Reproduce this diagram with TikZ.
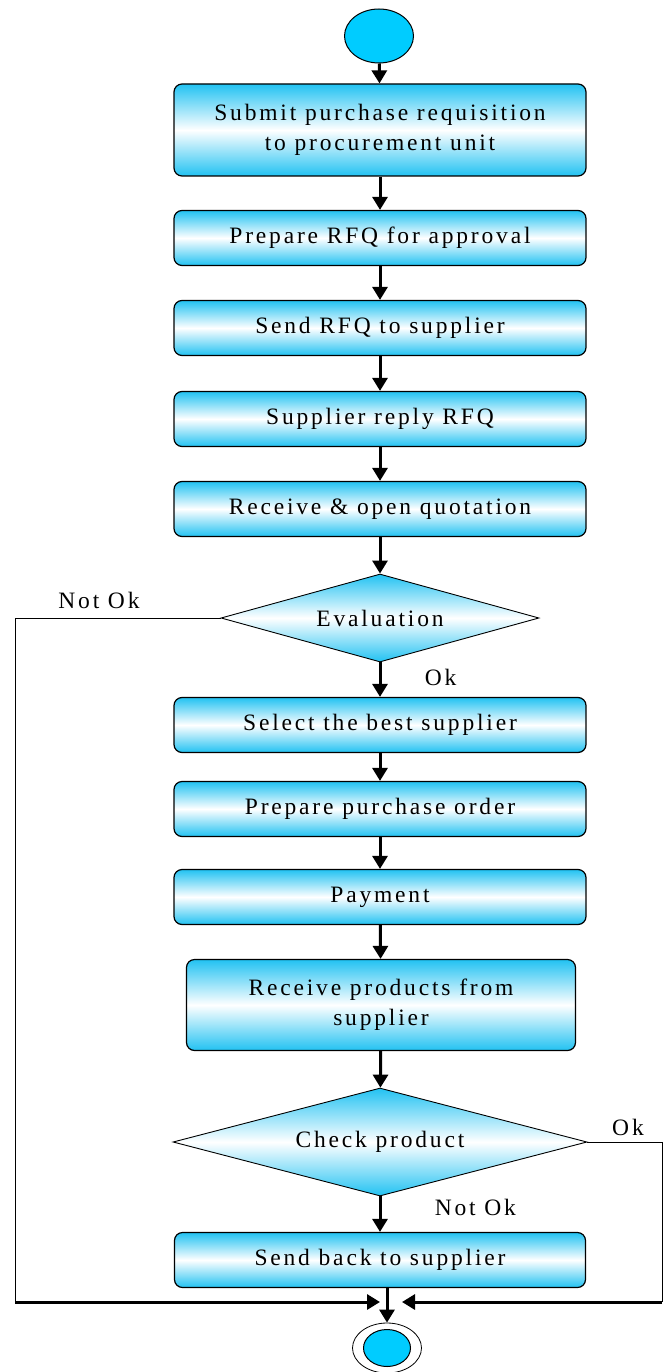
\documentclass[tikz,border=0pt]{standalone}
\usepackage{fontspec}
\usepackage{tikz}
\usetikzlibrary{positioning,shapes.geometric,arrows.meta}
\newfontfamily\flowfont{Liberation Serif}[LetterSpace=12]
\definecolor{sky}{HTML}{00CCFF}
\definecolor{skyfade}{HTML}{22C2F2}
\tikzset{
  act/.style={rectangle,draw=black,line width=1.2pt,rounded corners=8pt,
    top color=skyfade,bottom color=skyfade,middle color=white,align=center,
    minimum width=412pt,minimum height=55pt,inner sep=0pt},
  dec/.style={diamond,draw=black,line width=0.9pt,top color=skyfade,
    bottom color=skyfade,middle color=white,inner sep=0pt},
  fl/.style={-{Triangle[length=13pt,width=15pt]},line width=3pt},
  back/.style={line width=1pt},
}
\begin{document}
\begin{tikzpicture}[x=1pt,y=-1pt,every node/.style={font=\flowfont\fontsize{23.5}{30}\selectfont}]
  \useasboundingbox (0,0) rectangle (663,1372);
  \node[ellipse,draw,line width=1pt,fill=sky,minimum width=69pt,minimum height=54pt] (start) at (379,36) {};
  \node[act,minimum height=92pt] (req) at (380,130) {Submit purchase requisition\\to procurement unit};
  \node[act] (rfq) at (380,238) {Prepare RFQ for approval};
  \node[act] (send) at (380,328) {Send RFQ to supplier};
  \node[act] (reply) at (380,419) {Supplier reply RFQ};
  \node[act] (open) at (380,509) {Receive \& open quotation};
  \node[dec,aspect=3.6,minimum width=318pt,minimum height=88pt] (eval) at (380,618) {Evaluation};
  \node[act] (best) at (380,725) {Select the best supplier};
  \node[act] (po) at (380,809) {Prepare purchase order};
  \node[act] (pay) at (380,897) {Payment};
  \node[act,minimum width=389pt,minimum height=91pt] (recv) at (381,1005) {Receive products from\\supplier};
  \node[dec,aspect=3.8,minimum width=414pt,minimum height=108pt] (check) at (380,1142) {Check product};
  \node[act,minimum width=411pt] (sendback) at (380,1260) {Send back to supplier};
  \node[ellipse,draw,line width=0.8pt,minimum width=69pt,minimum height=50pt] (stop) at (387,1348) {};
  \node[ellipse,draw,line width=1pt,fill=sky,minimum width=47pt,minimum height=37pt] (stopdot) at (387,1348) {};
  \draw[fl] (start) -- (req);
  \draw[fl] (req) -- (rfq);
  \draw[fl] (rfq) -- (send);
  \draw[fl] (send) -- (reply);
  \draw[fl] (reply) -- (open);
  \draw[fl] (open) -- (eval);
  \draw[fl] (eval) -- (best) node[pos=0.45,right=40pt] {Ok};
  \draw[fl] (best) -- (po);
  \draw[fl] (po) -- (pay);
  \draw[fl] (pay) -- (recv);
  \draw[fl] (recv) -- (check);
  \draw[fl] (check) -- (sendback) node[pos=0.3,right=50pt] {Not Ok};
  \draw[fl] ([xshift=7pt]sendback.south) -- (stop);
  % loops back to the end
  \coordinate (lc) at (15,1302);
  \coordinate (rc) at (662,1302);
  \coordinate (lj) at (380,1302);
  \coordinate (rj) at (402,1302);
  \draw[back] (eval.west) -| (lc);
  \draw[fl] (lc) -- (lj);
  \draw[back] (check.east) -| (rc);
  \draw[fl] (rc) -- (rj);
  \node (notok) at (99,600) {Not Ok};
  \node (ok) at (628,1127) {Ok};
\end{tikzpicture}
\end{document}
